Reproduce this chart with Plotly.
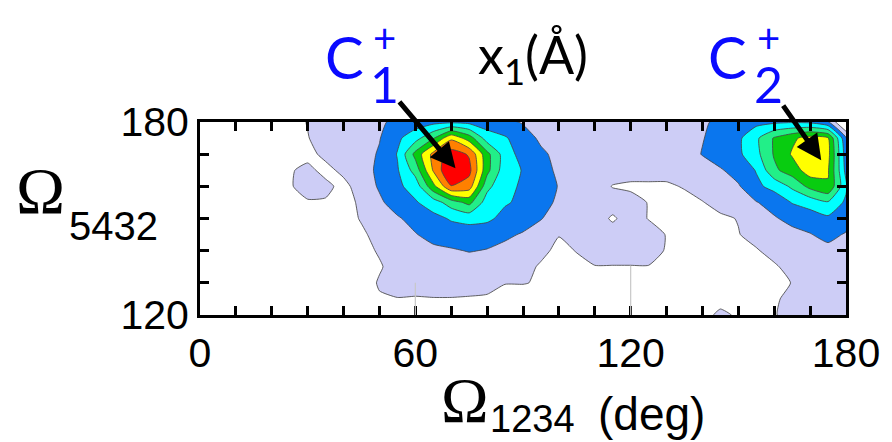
import numpy as np
import plotly.graph_objects as go

# ---- data ----
omega_1234 = list(range(0, 181, 5))      # x grid, deg
omega_5432 = list(range(120, 181, 5))    # y grid, deg

# x1 level (band index) at each grid node, one list per Omega_5432 row
z_120 = [0, 0, 0, 0, 0, 0, 0, 0, 0, 0, 0, 0, 0, 0, 0, 0, 0, 0, 0, 0, 0, 0, 0, 0, 0, 0, 0, 0, 0, 0.8, 0.3, 0, 0.4, 1.0, 1.0, 1.0, 1.0]
z_125 = [0, 0, 0, 0, 0, 0, 0, 0, 0, 0, 0.4, 0.45, 0.4, 0.45, 0.45, 0.4, 0.3, 0, 0, 0, 0, 0, 0, 0, 0, 0, 0, 0, 0, 0, 0, 0, 0.3, 0.9, 1.0, 1.0, 1.0]
z_130 = [0, 0, 0, 0, 0, 0, 0, 0, 0, 0, 0.6, 1.0, 1.0, 1.0, 1.0, 1.0, 1.0, 0.55, 0.55, 0.4, 0, 0, 0, 0, 0, 0, 0, 0, 0, 0, 0, 0, 0, 0.55, 1.0, 1.0, 1.0]
z_135 = [0, 0, 0, 0, 0, 0, 0, 0, 0, 0, 0.4, 0.9, 1.0, 1.0, 1.0, 1.0, 1.0, 1.0, 0.9, 0.35, 0.1, 0.2, 0.45, 0.45, 0.45, 0.45, 0.4, 0, 0, 0, 0, 0, 0.35, 0.9, 1.0, 1.0, 1.0]
z_140 = [0, 0, 0, 0, 0, 0, 0, 0, 0, 0.2, 0.6, 1.0, 1.1, 1.3, 1.4, 1.55, 1.45, 1.2, 1.0, 0.8, 0.2, 0.55, 1.0, 1.0, 1.0, 1.0, 0.4, 0, 0, 0, 0.1, 0.4, 0.9, 1.0, 1.0, 1.2, 1.0]
z_145 = [0, 0, 0, 0, 0, 0, 0, 0, 0, 0.3, 0.9, 1.0, 1.45, 1.8, 2.0, 2.0, 1.9, 1.7, 1.4, 1.0, 0.55, 0.9, 1.0, 1.0, 1.0, 1.0, 0.45, 0.1, 0, 0.1, 0.45, 0.9, 1.0, 1.2, 1.45, 1.8, 1.4]
z_150 = [0, 0, 0, 0, 0, 0, 0, 0, 0, 0.6, 1.0, 1.4, 1.8, 2.2, 2.6, 2.8, 2.7, 2.2, 2.0, 1.55, 1.0, 1.0, 1.0, 0.35, 1.0, 0.45, 0.2, 0.1, 0.1, 0.3, 0.55, 1.0, 1.4, 1.8, 2.0, 2.3, 2.0]
z_155 = [0, 0, 0, 0, 0, 0, 0.4, 0.4, 0.3, 0.6, 1.35, 1.9, 2.4, 3.0, 4.0, 4.8, 3.0, 2.6, 2.3, 1.9, 1.3, 1.0, 1.0, 1.0, 0.9, 0.45, 0.1, 0.1, 0.45, 0.9, 1.2, 1.45, 1.9, 2.55, 2.9, 3.4, 2.3]
z_160 = [0, 0, 0, 0, 0, 0.4, 0.9, 0.75, 0.2, 1.0, 1.6, 2.3, 2.9, 5.2, 7.45, 7.0, 3.8, 2.7, 2.4, 2.0, 1.45, 1.0, 1.0, 0.45, 0.3, 0.3, 0.3, 0.6, 1.0, 1.0, 1.4, 2.3, 2.8, 3.7, 4.8, 5.4, 2.7]
z_165 = [0, 0, 0, 0, 0, 0.4, 0.75, 0.2, 0.75, 1.1, 1.7, 2.4, 3.9, 6.6, 8.6, 7.8, 4.8, 2.9, 2.45, 1.9, 1.3, 1.0, 1.0, 1.0, 1.0, 1.0, 1.0, 1.0, 1.0, 1.4, 1.9, 2.55, 4.3, 5.0, 6.0, 5.6, 2.2]
z_170 = [0, 0, 0, 0, 0, 0, 0.2, 0.75, 1.0, 1.1, 1.6, 2.55, 4.8, 6.8, 8.0, 7.4, 4.8, 3.0, 2.1, 1.7, 1.2, 1.0, 1.0, 1.0, 1.0, 1.0, 1.0, 1.0, 1.55, 2.0, 2.3, 3.2, 4.6, 5.6, 6.2, 5.8, 2.0]
z_175 = [0, 0, 0, 0, 0, 0, 0.45, 1.0, 1.0, 1.2, 1.45, 2.3, 3.1, 4.4, 6.3, 5.0, 3.0, 2.6, 2.0, 1.3, 1.0, 1.0, 1.0, 1.0, 1.0, 1.0, 1.0, 1.0, 1.45, 1.9, 2.3, 3.3, 4.6, 5.3, 5.9, 5.6, 1.6]
z_180 = [0, 0, 0, 0, 0, 0, 0.55, 1.0, 1.0, 1.0, 1.3, 1.8, 2.0, 2.2, 2.3, 2.2, 2.0, 1.8, 1.4, 1.0, 1.0, 0.9, 0.9, 1.0, 1.0, 1.0, 1.0, 1.0, 1.3, 1.8, 2.0, 2.2, 2.3, 2.4, 2.3, 1.6, -1.0]

z_rows = [z_120, z_125, z_130, z_135, z_140, z_145, z_150, z_155, z_160,
          z_165, z_170, z_175, z_180]

band_colors = ["#ffffff", "#cdcdf6", "#0a76ee", "#00ffff", "#22ef88",
               "#08cc10", "#ffff00", "#ff8000", "#ff0000"]

x_tick_vals = list(range(0, 181, 10))
x_tick_text = [str(v) if v % 60 == 0 else "" for v in x_tick_vals]
y_tick_vals = list(range(120, 181, 10))
y_tick_text = [str(v) if v in (120, 180) else "" for v in y_tick_vals]

# peak subscript, arrow tip (Omega_1234, Omega_5432)
peak_labels = [("1", 71.2, 165.6), ("2", 173.1, 168.1)]

# ---- figure ----
n = len(band_colors) - 1
cscale = []
for k, c in enumerate(band_colors):
    lo = max(0.0, (k - 0.5) / n)
    hi = min(1.0, (k + 0.5) / n)
    cscale += [[lo, c], [hi, c]]

# ring of below-lowest-level nodes just outside the visible ranges so every
# contour closes outside the frame (rendering aid only; clipped away)
z_arr = np.pad(np.array(z_rows, dtype=float), 1, constant_values=-1.0)
step_x = omega_1234[1] - omega_1234[0]
step_y = omega_5432[1] - omega_5432[0]
x_grid = [omega_1234[0] - step_x] + omega_1234 + [omega_1234[-1] + step_x]
y_grid = [omega_5432[0] - step_y] + omega_5432 + [omega_5432[-1] + step_y]

fig = go.Figure()
fig.add_trace(go.Contour(
    x=x_grid, y=y_grid, z=z_arr.tolist(),
    zmin=0, zmax=n,
    contours=dict(start=0.5, end=n - 0.5, size=1, coloring="fill", showlines=True),
    line=dict(color="rgba(70,70,70,0.85)", width=1, smoothing=0.5),
    colorscale=cscale, showscale=False, hoverinfo="skip",
))

W, H = 892, 442
L, R, T, B = 200, 42, 122, 127
pw, ph = W - L - R, H - T - B


def px(xp):
    return (xp - L) / pw


def py(yp):
    return (H - B - yp) / ph


ann = []
blue = "#0a0aff"
offsets = [0, 386]
for (sub, xt, yt), off in zip(peak_labels, offsets):
    ann.append(dict(text="C", x=px(345 + off), y=py(57), xref="paper", yref="paper",
                    showarrow=False, xanchor="center", yanchor="middle",
                    font=dict(family="Lato", size=58, color=blue)))
    ann.append(dict(text="+", x=px(386 + off), y=py(38), xref="paper", yref="paper",
                    showarrow=False, xanchor="center", yanchor="middle",
                    font=dict(family="Lato", size=40, color=blue)))
    ann.append(dict(text=sub, x=xt, y=yt, xref="x", yref="y",
                    showarrow=True, ax=386 + off - (L + xt / 180 * pw),
                    ay=84 - (T + (180 - yt) / 60 * ph),
                    arrowcolor="black", arrowwidth=5, arrowhead=2, arrowsize=1,
                    standoff=0, borderpad=0,
                    font=dict(family="Lato", size=50, color=blue)))

ann.append(dict(text="x<sub>1</sub>(Å)", x=px(535), y=py(58), xref="paper", yref="paper",
                showarrow=False, xanchor="center", yanchor="middle",
                font=dict(family="Lato", size=52, color="black")))

ann.append(dict(text="Ω", x=px(40), y=py(190), xref="paper", yref="paper",
                showarrow=False, xanchor="center", yanchor="middle",
                font=dict(family="Liberation Serif", size=66, color="black")))
ann.append(dict(text="5432", x=px(113), y=py(226), xref="paper", yref="paper",
                showarrow=False, xanchor="center", yanchor="middle",
                font=dict(family="Liberation Sans", size=40, color="black")))
ann.append(dict(text="Ω", x=px(467), y=py(400), xref="paper", yref="paper",
                showarrow=False, xanchor="center", yanchor="middle",
                font=dict(family="Liberation Serif", size=64, color="black")))
ann.append(dict(text="1234", x=px(535), y=py(419), xref="paper", yref="paper",
                showarrow=False, xanchor="center", yanchor="middle",
                font=dict(family="Liberation Sans", size=38, color="black")))
ann.append(dict(text="(deg)", x=px(654), y=py(414), xref="paper", yref="paper",
                showarrow=False, xanchor="center", yanchor="middle",
                font=dict(family="Liberation Sans", size=46, color="black")))

axis_common = dict(showgrid=False, zeroline=False, showline=True, linecolor="black",
                   linewidth=3, mirror="ticks", ticks="inside", ticklen=9, tickwidth=2.5,
                   tickcolor="black", tickmode="array",
                   tickfont=dict(family="Liberation Sans", size=41, color="black"))

fig.update_layout(
    width=W, height=H, margin=dict(l=L, r=R, t=T, b=B),
    paper_bgcolor="white", plot_bgcolor="white",
    xaxis=dict(range=[0, 180], tickvals=x_tick_vals, ticktext=x_tick_text, **axis_common),
    yaxis=dict(range=[120, 180], tickvals=y_tick_vals, ticktext=y_tick_text, **axis_common),
    annotations=ann,
    shapes=[
        dict(type="line", xref="x", yref="y", x0=60, x1=60, y0=120, y1=130,
             line=dict(color="#c8c8c8", width=1.2)),
        dict(type="line", xref="x", yref="y", x0=120, x1=120, y0=120, y1=135.3,
             line=dict(color="#c8c8c8", width=1.2)),
    ],
    showlegend=False,
)

fig.write_html("out.html")
